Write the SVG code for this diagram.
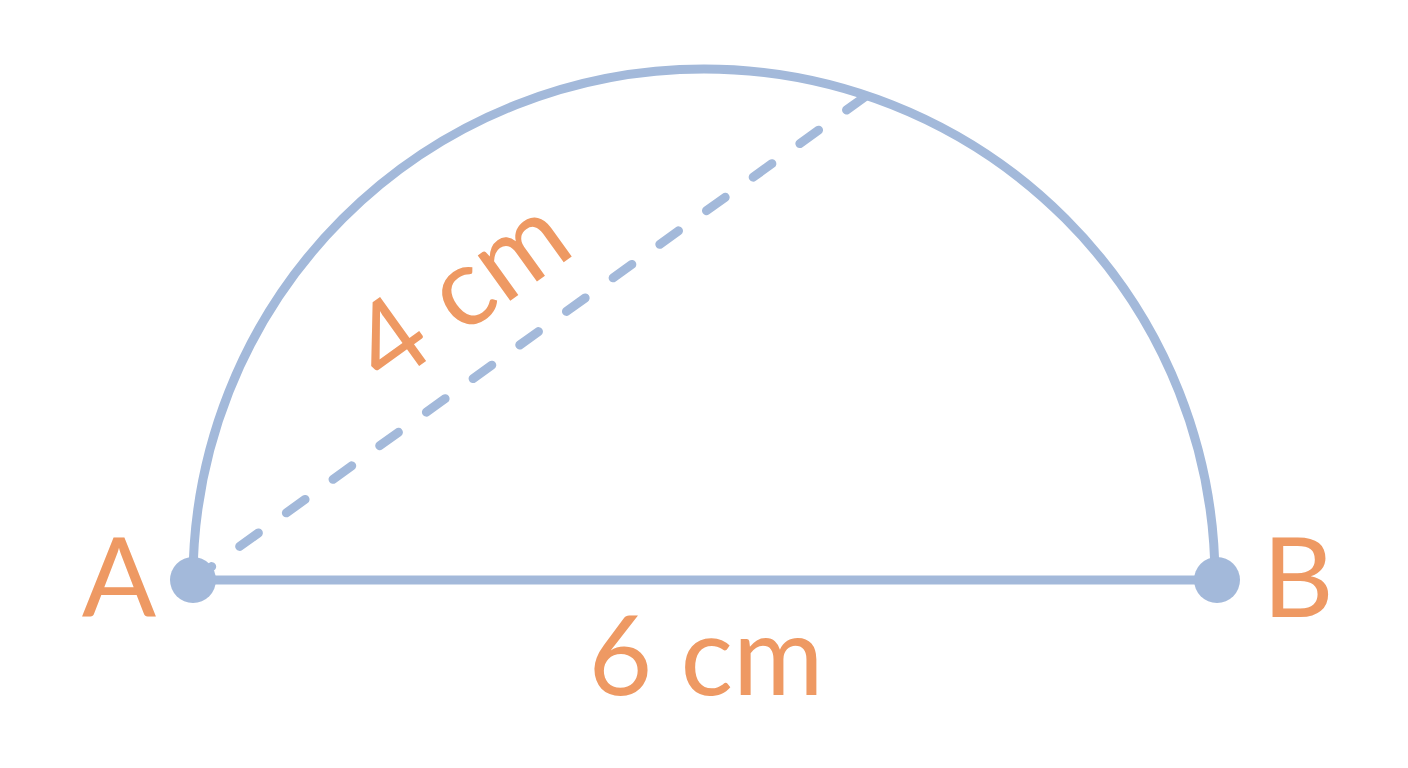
<svg xmlns="http://www.w3.org/2000/svg" width="1408" height="768" viewBox="0 0 1408 768">
<style>
.ln{fill:none;stroke:#A3B9DA;stroke-width:9;stroke-linecap:round}
.dot{fill:#A3B9DA}
.lbl{fill:#EE9963;font-family:Lato,"Open Sans","Liberation Sans",sans-serif;font-size:110px}
</style>
<rect width="1408" height="768" fill="#ffffff"/>
<g id="connectors">
<path id="arc" class="ln" d="M193,580 A511,511 0 0 1 1215,580"/>
<line id="diameter" class="ln" x1="193" y1="580" x2="1217" y2="580"/>
<line id="chord" class="ln" x1="193" y1="580" x2="866" y2="96" stroke-width="10" stroke-dasharray="23 34.5"/>
</g>
<g id="nodeA">
<circle class="dot" cx="193" cy="580" r="23"/>
<text class="lbl" x="119" y="617" text-anchor="middle" font-size="112">A</text>
</g>
<g id="nodeB">
<circle class="dot" cx="1217" cy="580" r="23"/>
<text class="lbl" x="1298" y="617" text-anchor="middle" font-size="112">B</text>
</g>
<g id="label6">
<text class="lbl" x="706" y="695" text-anchor="middle">6 cm</text>
</g>
<g id="label4">
<text class="lbl" x="482" y="321" text-anchor="middle" font-size="115" transform="rotate(-35.7 482 321)">4 cm</text>
</g>
</svg>
